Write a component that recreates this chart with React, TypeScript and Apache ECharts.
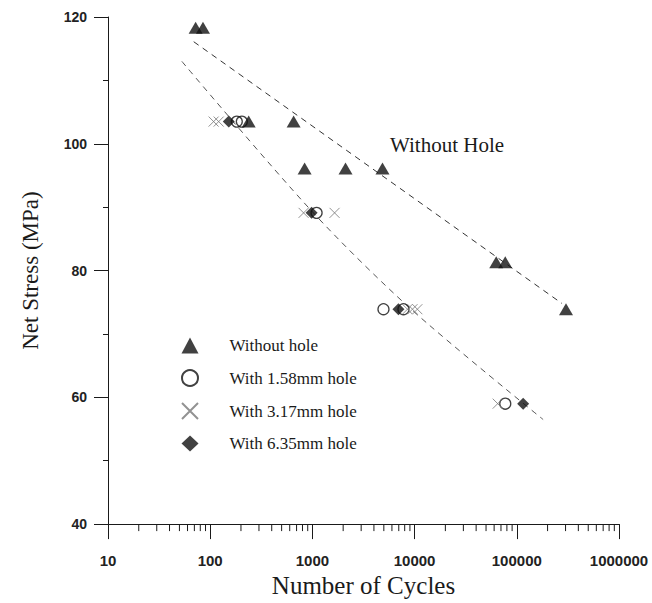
import { useEffect, useRef } from 'react';
import * as echarts from 'echarts';

// Fatigue data: number of cycles to failure vs. net stress (MPa)
const withoutHoleCycles = [72, 85, 238, 655, 839, 2109, 4850, 62900, 77100, 303000];
const withoutHoleStress = [118.3, 118.3, 103.5, 103.5, 96.1, 96.1, 96.1, 81.3, 81.3, 73.9];

const hole158Cycles = [182, 204, 1099, 4960, 7780, 77100];
const hole158Stress = [103.5, 103.5, 89.1, 73.9, 73.9, 59.0];

const hole317Cycles = [108, 121, 820, 1648, 8510, 9530, 10640, 65000];
const hole317Stress = [103.5, 103.5, 89.1, 89.1, 73.9, 73.9, 73.9, 59.0];

const hole635Cycles = [152, 982, 6950, 115400];
const hole635Stress = [103.5, 89.1, 73.9, 59.0];

// Dashed trend curves
const withoutHoleFitCycles = [69, 277000];
const withoutHoleFitStress = [116.1, 74.8];
const withHoleFitCycles = [52.8, 982, 9100, 181000];
const withHoleFitStress = [113.0, 89.4, 74.0, 56.5];

// Axis ranges
const cycleMin = 10;
const cycleMax = 1000000;
const stressMin = 40;
const stressMax = 120;
const stressStep = 20;

const legendNames = ['Without hole', 'With 1.58mm hole', 'With 3.17mm hole', 'With 6.35mm hole'];

const zip = (xs: number[], ys: number[]) => xs.map((x, i) => [x, ys[i]]);

// Minor ticks of the logarithmic cycle axis: 2..9 within each decade
const minorCycleTicks: number[] = [];
for (let d = cycleMin; d < cycleMax; d *= 10) {
  for (let k = 2; k <= 9; k++) minorCycleTicks.push(k * d);
}

const SERIF = '"Liberation Serif", "Times New Roman", serif';
const SANS = '"Liberation Sans", Arial, sans-serif';

export default function App() {
  const ref = useRef<HTMLDivElement>(null);

  useEffect(() => {
    const chart = echarts.init(ref.current!, null, { renderer: 'svg' });
    chart.setOption({
      animation: false,
      backgroundColor: '#ffffff',
      grid: { left: 108, right: 33, top: 17, bottom: 73 },
      xAxis: {
        type: 'log',
        logBase: 10,
        min: cycleMin,
        max: cycleMax,
        name: 'Number of Cycles',
        nameLocation: 'middle',
        nameGap: 43,
        nameTextStyle: { fontFamily: SERIF, fontSize: 25, color: '#1a1a1a' },
        axisLine: { show: true, lineStyle: { color: '#1a1a1a', width: 1 } },
        axisTick: { show: true, length: 15, lineStyle: { color: '#1a1a1a', width: 1 } },
        axisLabel: {
          margin: 29,
          fontFamily: SANS,
          fontWeight: 'bold',
          fontSize: 15,
          color: '#222',
          formatter: (v: number) => String(Math.round(v)),
        },
        splitLine: { show: false },
        minorTick: { show: false },
      },
      yAxis: {
        type: 'value',
        min: stressMin,
        max: stressMax,
        interval: stressStep,
        name: 'Net Stress (MPa)',
        nameLocation: 'middle',
        nameRotate: 90,
        nameGap: 66,
        nameTextStyle: { fontFamily: SERIF, fontSize: 23, color: '#1a1a1a' },
        axisLine: { show: true, lineStyle: { color: '#1a1a1a', width: 1 } },
        axisTick: { show: true, length: 14, lineStyle: { color: '#1a1a1a', width: 1 } },
        minorTick: { show: true, splitNumber: 2, length: 5, lineStyle: { color: '#1a1a1a', width: 1 } },
        axisLabel: { margin: 21, fontFamily: SANS, fontWeight: 'bold', fontSize: 14, color: '#222' },
        splitLine: { show: false },
      },
      legend: {
        data: legendNames,
        orient: 'vertical',
        left: 176,
        top: 332,
        itemWidth: 17,
        itemHeight: 16,
        itemGap: 15,
        selectedMode: false,
        textStyle: { fontFamily: SERIF, fontSize: 17, color: '#1a1a1a', padding: [0, 0, 0, 26] },
      },
      graphic: [
        {
          type: 'text',
          left: 390,
          top: 134,
          style: { text: 'Without Hole', font: `21px ${SERIF}`, fill: '#1a1a1a' },
        },
      ],
      series: [
        {
          type: 'custom',
          silent: true,
          clip: false,
          data: minorCycleTicks.map((v) => [v, stressMin]),
          renderItem: (_params: any, api: any) => {
            const p = api.coord([api.value(0), api.value(1)]);
            return {
              type: 'line',
              shape: { x1: p[0], y1: p[1], x2: p[0], y2: p[1] + 7 },
              style: { stroke: '#1a1a1a', lineWidth: 1 },
            };
          },
          z: 1,
        },
        {
          type: 'line',
          silent: true,
          data: zip(withoutHoleFitCycles, withoutHoleFitStress),
          symbol: 'none',
          lineStyle: { color: '#333', width: 1, type: [6, 5] },
          z: 1,
        },
        {
          type: 'line',
          silent: true,
          smooth: 0.3,
          data: zip(withHoleFitCycles, withHoleFitStress),
          symbol: 'none',
          lineStyle: { color: '#555', width: 1, type: [6, 5] },
          z: 1,
        },
        {
          name: legendNames[0],
          type: 'scatter',
          symbol: 'triangle',
          symbolSize: [14, 12],
          itemStyle: { color: '#111' },
          data: zip(withoutHoleCycles, withoutHoleStress),
          z: 3,
        },
        {
          name: legendNames[1],
          type: 'scatter',
          symbol: 'circle',
          symbolSize: 11,
          itemStyle: { color: 'rgba(255,255,255,0)', borderColor: '#111', borderWidth: 1.3 },
          data: zip(hole158Cycles, hole158Stress),
          z: 4,
        },
        {
          name: legendNames[2],
          type: 'scatter',
          symbol: 'path://M0,0L10,10M10,0L0,10',
          symbolSize: 10,
          itemStyle: { color: 'rgba(255,255,255,0)', borderColor: '#777', borderWidth: 1 },
          data: zip(hole317Cycles, hole317Stress),
          z: 4,
        },
        {
          name: legendNames[3],
          type: 'scatter',
          symbol: 'diamond',
          symbolSize: [12, 12],
          itemStyle: { color: '#111' },
          data: zip(hole635Cycles, hole635Stress),
          z: 3,
        },
      ],
    });
    return () => chart.dispose();
  }, []);

  return (
    <div
      ref={ref}
      style={{ position: 'absolute', left: 0, top: 0, width: 652, height: 603 }}
    />
  );
}
